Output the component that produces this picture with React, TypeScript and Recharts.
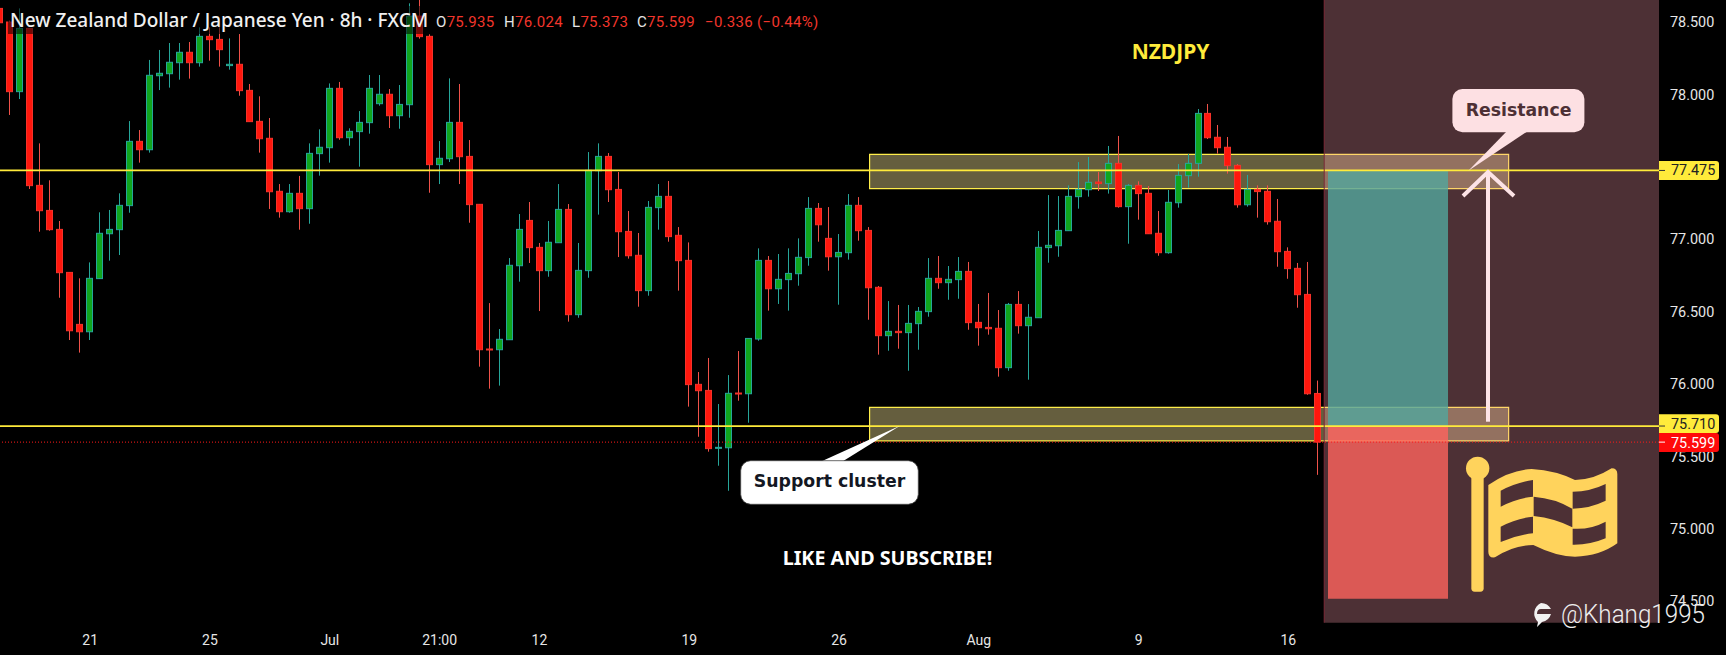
import React from "react";
import { ComposedChart, Bar, XAxis, YAxis, ReferenceArea, ReferenceLine } from "recharts";

// Candles: first one is the clipped candle on the left edge (index -1)
const opens = [78.594,78.500,78.019,78.456,77.372,77.199,77.068,76.771,76.412,76.361,
76.728,77.038,77.066,77.232,77.676,77.618,78.129,78.143,78.219,78.291,
78.219,78.401,78.380,78.199,78.208,78.028,77.814,77.697,77.331,77.190,
77.317,77.211,77.591,77.632,78.042,77.701,77.743,77.805,77.936,78.001,
77.853,77.929,78.541,78.401,77.515,77.556,77.807,77.572,77.241,76.242,
76.237,76.306,76.817,77.130,76.944,76.783,76.976,77.206,76.479,76.783,
77.473,77.572,77.344,77.054,76.889,76.645,77.218,77.296,77.027,76.854,
75.998,75.956,75.556,75.560,75.938,75.933,76.311,76.854,76.658,76.721,
76.762,76.873,77.213,77.006,76.879,76.907,77.234,77.061,76.668,76.334,
76.364,76.355,76.417,76.500,76.730,76.700,76.721,76.778,76.426,76.391,
76.385,76.113,76.550,76.403,76.458,76.942,76.955,77.059,77.294,77.342,
77.395,77.384,77.524,77.225,77.372,77.317,77.041,76.907,77.252,77.439,
77.524,77.869,77.704,77.635,77.510,77.238,77.344,77.331,77.124,76.916,
76.799,76.619,75.935];
const highs = [78.652,78.510,78.594,78.456,77.662,77.407,77.126,76.771,76.730,76.840,
77.186,77.202,77.317,77.816,77.754,78.238,78.307,78.355,78.355,78.362,
78.463,78.463,78.463,78.387,78.417,78.072,77.987,77.837,77.381,77.381,
77.437,77.662,77.759,78.076,78.086,77.766,77.885,78.134,78.134,78.037,
78.065,78.629,78.652,78.415,77.678,78.111,78.072,77.685,77.241,76.559,
76.380,76.870,77.174,77.257,76.974,77.126,77.381,77.243,76.974,77.602,
77.662,77.595,77.464,77.195,77.043,77.264,77.381,77.402,77.084,76.978,
76.083,76.180,75.862,76.062,76.228,76.315,76.937,76.884,76.898,76.937,
77.006,77.291,77.250,77.222,77.036,77.312,77.291,77.084,76.677,76.573,
76.546,76.546,76.532,76.870,76.884,76.815,76.877,76.843,76.553,76.629,
76.511,76.560,76.642,76.552,77.057,77.305,77.298,77.372,77.533,77.568,
77.464,77.644,77.713,77.381,77.400,77.367,77.195,77.340,77.519,77.589,
77.899,77.934,77.789,77.706,77.519,77.444,77.372,77.372,77.278,76.944,
76.836,76.843,76.024];
const lows = [78.433,77.858,77.968,77.347,77.052,77.059,76.596,76.304,76.217,76.304,
76.728,76.852,76.891,77.183,77.529,77.598,78.030,78.047,78.102,78.109,
78.192,78.233,78.192,78.171,77.991,77.812,77.598,77.209,77.149,77.183,
77.066,77.107,77.439,77.529,77.687,77.646,77.501,77.729,77.922,77.768,
77.763,77.839,78.385,77.321,77.381,77.533,77.381,77.114,76.120,75.968,
75.989,76.306,76.707,76.836,76.504,76.741,76.976,76.431,76.458,76.734,
77.170,77.257,76.877,76.866,76.534,76.610,77.066,76.983,76.645,75.844,
75.636,75.533,75.436,75.263,75.885,75.733,76.299,76.507,76.553,76.507,
76.679,76.817,76.983,76.783,76.548,76.859,76.990,76.444,76.203,76.230,
76.244,76.092,76.237,76.465,76.658,76.582,76.589,76.375,76.265,76.341,
76.051,76.092,76.348,76.030,76.458,76.838,76.879,77.059,77.211,77.294,
77.333,77.315,77.218,76.969,77.135,77.038,76.886,76.900,77.218,77.356,
77.432,77.692,77.591,77.453,77.218,77.225,77.149,77.101,76.810,76.727,
76.527,75.926,75.373];
const closes = [78.495,78.019,78.456,77.370,77.197,77.066,76.769,76.368,76.361,76.730,
77.041,77.068,77.234,77.676,77.618,78.132,78.146,78.222,78.291,78.219,
78.401,78.378,78.309,78.208,78.026,77.812,77.694,77.328,77.190,77.317,
77.211,77.593,77.635,78.042,77.701,77.745,77.807,78.042,78.001,77.853,
77.931,78.541,78.399,77.515,77.559,77.807,77.570,77.239,76.237,76.237,
76.309,76.820,77.068,76.942,76.783,76.979,77.206,76.479,76.785,77.476,
77.572,77.342,77.052,76.886,76.645,77.220,77.296,77.018,76.852,75.996,
75.954,75.554,75.563,75.936,75.933,76.315,76.854,76.658,76.723,76.764,
76.875,77.213,77.100,76.879,76.909,77.234,77.059,76.665,76.334,76.364,
76.355,76.419,76.502,76.730,76.700,76.723,76.778,76.424,76.389,76.382,
76.113,76.550,76.403,76.461,76.944,76.958,77.061,77.296,77.344,77.393,
77.384,77.524,77.225,77.372,77.315,77.038,76.907,77.255,77.441,77.524,
77.869,77.701,77.632,77.508,77.238,77.344,77.329,77.121,76.914,76.797,
76.617,75.933,75.599];

const timeTicks = [8, 20, 32, 43, 53, 68, 83, 97, 113, 128];
const timeLabels = ["21", "25", "Jul", "21:00", "12", "19", "26", "Aug", "9", "16"];
const priceTicks = [74.5, 75, 75.5, 76, 76.5, 77, 78, 78.5];

const resistanceLevel = 77.475;
const supportLevel = 75.71;
const lastPrice = 75.599;
const resistanceZone = [77.349, 77.586];
const supportZone = [75.608, 75.839];
const zoneSpan = [86.06, 150.06];
const projectionSpan = [131.59, 165.12];
const positionSpan = [131.97, 143.99];
const stopLevel = 74.517;
const priceDomain = [74.352, 78.652];

const rows = opens.map((o, k) => ({
  idx: k - 1,
  open: o,
  high: highs[k],
  low: lows[k],
  close: closes[k],
  range: [lows[k], highs[k]],
}));

const PANE_H = 622.7;
const pxPerUnit = PANE_H / (priceDomain[1] - priceDomain[0]);
const priceY = (p: number) => (priceDomain[1] - p) * pxPerUnit;

const Candle = (props: any) => {
  const { x, y, width, height, payload } = props;
  const { open, close, high, low } = payload;
  const up = close >= open;
  const cx = Math.round(x + width / 2 - 0.5) + 0.5;
  const scale = height / (high - low || 1);
  const top = y + (high - Math.max(open, close)) * scale;
  const bh = Math.max(Math.abs(open - close) * scale, 1);
  return (
    <g>
      <line x1={cx} x2={cx} y1={y} y2={y + height} stroke={up ? "#26a69a" : "#f0524a"} strokeWidth={1} />
      <rect
        x={cx - 3}
        y={top}
        width={6}
        height={bh}
        fill={up ? "#10a51e" : "#ff170d"}
        stroke={up ? "#26a69a" : "#f5322a"}
        strokeWidth={1}
      />
    </g>
  );
};

const uiFont = "Roboto, sans-serif";
const titleFont = "'Noto Sans', sans-serif";
const calloutFont = "'DejaVu Sans', sans-serif";
const tagSize = 14.4;

const Overlay = () => (
  <svg width={1726} height={655} style={{ position: "absolute", left: 0, top: 0, pointerEvents: "none" }}>
    {/* legend */}
    <rect x={8} y={6} width={416} height={28} fill="#000" opacity={0.55} />
    <text x={10} y={27} fontFamily={titleFont} fontSize={19} fontWeight={500} fill="#f0f0f0">
      New Zealand Dollar / Japanese Yen · 8h · FXCM
    </text>
    <g fontFamily={uiFont} fontSize={15} letterSpacing={0.3}>
      <text x={436} y={27} fill="#e6e6e6">O<tspan fill="#f2362c">75.935</tspan></text>
      <text x={504} y={27} fill="#e6e6e6">H<tspan fill="#f2362c">76.024</tspan></text>
      <text x={572} y={27} fill="#e6e6e6">L<tspan fill="#f2362c">75.373</tspan></text>
      <text x={637} y={27} fill="#e6e6e6">C<tspan fill="#f2362c">75.599</tspan></text>
      <text x={705} y={27} fill="#f2362c">−0.336 (−0.44%)</text>
    </g>
    <text x={1170.5} y={59} textAnchor="middle" fontFamily={titleFont} fontSize={21} fontWeight={700} fill="#ffeb3b">NZDJPY</text>
    <text x={887.5} y={565} textAnchor="middle" fontFamily={titleFont} fontSize={19.7} fontWeight={700} fill="#ffffff">LIKE AND SUBSCRIBE!</text>

    {/* arrow */}
    <g stroke="#fde3e6" strokeWidth={4} fill="none">
      <line x1={1488} x2={1488} y1={421.7} y2={172} />
      <polyline points="1463,196 1488,172 1514,196" />
    </g>

    {/* resistance callout */}
    <path d="M1507 131 L1528 131 L1468.4 170.7 Z" fill="#fde0e3" />
    <rect x={1452.4} y={89} width={132} height={43.3} rx={10} fill="#fde0e3" />
    <text x={1518.5} y={116} textAnchor="middle" fontFamily={calloutFont} fontSize={17.3} fontWeight={700} fill="#4d3035">Resistance</text>

    {/* support callout */}
    <path d="M820 462 L841.7 462 L900 425.7 Z" fill="#ffffff" />
    <rect x={740.7} y={460.7} width={177.6} height={43.6} rx={10} fill="#ffffff" stroke="#444" strokeWidth={0.8} />
    <text x={829.5} y={487} textAnchor="middle" fontFamily={calloutFont} fontSize={17.3} fontWeight={700} fill="#131722">Support cluster</text>

    {/* flag */}
    <g transform="translate(1460 450) scale(0.3333)" fill="#ffd35c">
      <rect x={34} y={60} width={37} height={365} rx={10} />
      <circle cx={53} cy={55} r={35} />
      <path
        fillRule="evenodd"
        d="M85 105 Q150 60 215 57 Q290 62 345 90 Q400 90 455 55 Q472 55 472 72 L472 280 Q420 318 345 320 Q290 320 220 285 Q160 285 105 322 Q85 325 85 305 Z
        M122 122 Q170 97 219 90 L219 140 Q170 145 122 170 Z
        M122 230 Q170 205 219 200 L219 250 Q170 255 122 276 Z
        M221 140 Q285 145 337 176 L337 232 Q285 205 221 198 Z
        M338 125 Q390 125 437 102 L437 152 Q390 175 338 176 Z
        M338 236 Q390 240 437 215 L437 265 Q390 285 338 284 Z"
      />
    </g>

    {/* price tags */}
    <path d={`M1659 ${priceY(resistanceLevel) - 9.5} H1716 a3 3 0 0 1 3 3 V${priceY(resistanceLevel) + 6.5} a3 3 0 0 1 -3 3 H1659 Z`} fill="#ffeb3b" />
    <line x1={1659} x2={1665} y1={priceY(resistanceLevel)} y2={priceY(resistanceLevel)} stroke="#333" />
    <text x={1671} y={priceY(resistanceLevel) + 5} fontFamily={uiFont} fontSize={tagSize} fill="#222">77.475</text>
    <path d={`M1659 ${priceY(supportLevel) - 11.7} H1716 a3 3 0 0 1 3 3 V${priceY(supportLevel) + 4} a3 3 0 0 1 -3 3 H1659 Z`} fill="#ffeb3b" />
    <line x1={1659} x2={1665} y1={priceY(supportLevel)} y2={priceY(supportLevel)} stroke="#333" />
    <text x={1671} y={priceY(supportLevel) + 3} fontFamily={uiFont} fontSize={tagSize} fill="#222">75.710</text>
    <path d={`M1659 433 H1716 a3 3 0 0 1 3 3 V449 a3 3 0 0 1 -3 3 H1659 Z`} fill="#ff0a0a" />
    <line x1={1659} x2={1665} y1={priceY(lastPrice)} y2={priceY(lastPrice)} stroke="#fff" />
    <text x={1671} y={447.5} fontFamily={uiFont} fontSize={tagSize} fill="#fff">75.599</text>

    {/* watermark */}
    <g fill="#f2f2f2">
      <path d="M1541 603 a11.5 11.5 0 0 1 10 6 h-10 q-4 0 -4 5 h14 a11.5 11.5 0 0 1 -9 8 l-5 5 l1 -5 a11.5 11.5 0 0 1 3 -19 Z" />
      <text x={1561} y={623} fontFamily={uiFont} fontSize={26} fontWeight={300} textLength={144} lengthAdjust="spacingAndGlyphs" fill="#eeeeee">@Khang1995</text>
    </g>
  </svg>
);

export default function App() {
  return (
    <div style={{ position: "absolute", left: 0, top: 0, width: 1726, height: 655, background: "#000", overflow: "hidden" }}>
      <ComposedChart width={1726} height={655} data={rows} margin={{ top: 0, right: 0, bottom: 0, left: 0 }}>
        <XAxis
          dataKey="idx"
          type="number"
          domain={[-1.0316, projectionSpan[1]]}
          ticks={timeTicks}
          tickFormatter={(v: number) => timeLabels[timeTicks.indexOf(v)]}
          interval={0}
          height={32.3}
          axisLine={false}
          tickLine={false}
          tick={{ fill: "#e6e6e6", fontSize: 14, fontFamily: uiFont }}
          tickMargin={6}
          allowDataOverflow
        />
        <YAxis
          orientation="right"
          type="number"
          domain={priceDomain}
          ticks={priceTicks}
          tickFormatter={(v: number) => v.toFixed(3)}
          interval={0}
          width={67}
          axisLine={false}
          tickLine={false}
          tick={{ fill: "#e6e6e6", fontSize: 14.4, fontFamily: uiFont }}
          tickMargin={5}
          allowDataOverflow
        />
        <ReferenceArea x1={zoneSpan[0]} x2={zoneSpan[1]} y1={resistanceZone[0]} y2={resistanceZone[1]} fill="#fdeb9a" fillOpacity={0.4} stroke="#ffee4a" strokeWidth={1.2} />
        <ReferenceArea x1={zoneSpan[0]} x2={zoneSpan[1]} y1={supportZone[0]} y2={supportZone[1]} fill="#fdeb9a" fillOpacity={0.4} stroke="#ffee4a" strokeWidth={1.2} />
        <ReferenceLine y={resistanceLevel} stroke="#ffeb3b" strokeWidth={1.7} />
        <ReferenceLine y={supportLevel} stroke="#ffeb3b" strokeWidth={1.7} />
        <ReferenceArea x1={projectionSpan[0]} x2={projectionSpan[1]} y1={priceDomain[0]} y2={priceDomain[1]} fill="#ff9fb0" fillOpacity={0.3} stroke="none" />
        <ReferenceLine x={projectionSpan[0]} stroke="#7c2a38" strokeWidth={1} />
        <ReferenceArea x1={positionSpan[0]} x2={positionSpan[1]} y1={supportLevel} y2={resistanceLevel} fill="#52a89e" fillOpacity={0.8} stroke="none" />
        <ReferenceArea x1={positionSpan[0]} x2={positionSpan[1]} y1={stopLevel} y2={supportLevel} fill="#ff645e" fillOpacity={0.8} stroke="none" />
        <ReferenceLine y={lastPrice} stroke="#ff1a1a" strokeWidth={1} strokeDasharray="1 2" />
        <Bar dataKey="range" barSize={7} shape={Candle} isAnimationActive={false} />
      </ComposedChart>
      <Overlay />
    </div>
  );
}
